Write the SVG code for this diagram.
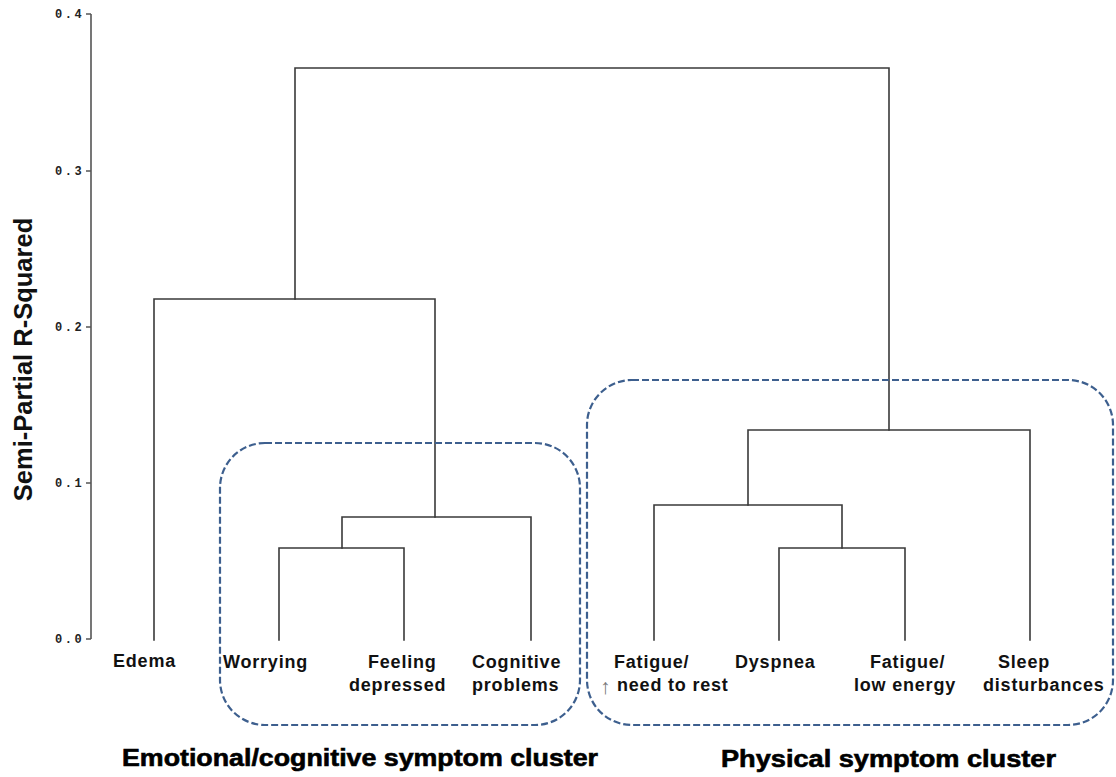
<svg xmlns="http://www.w3.org/2000/svg" width="1116" height="777" viewBox="0 0 1116 777">
<style>
.ln{stroke:#3a3a3a;stroke-width:1.6;fill:none;stroke-linecap:square}
.ax{stroke:#555;stroke-width:1.6;fill:none}
.tk{font-family:"Liberation Mono",monospace;font-weight:bold;font-size:12px;letter-spacing:2.5px;fill:#222}
.lb{font-family:"Liberation Sans",Arial,sans-serif;font-weight:bold;font-size:18px;letter-spacing:0.8px;fill:#111}
.cl{fill:none;stroke:#3d5f8e;stroke-width:2.2;stroke-dasharray:7 3}
.tt{font-family:"Liberation Sans",Arial,sans-serif;font-weight:bold;font-size:23px;fill:#000;stroke:#000;stroke-width:0.6}
.yl{font-family:"Liberation Sans",Arial,sans-serif;font-weight:bold;font-size:25.5px;fill:#111}
</style>
<rect width="1116" height="777" fill="#fff"/>
<g id="axis">
<path class="ax" d="M91 14V639M86 14H91M86 171H91M86 327H91M86 483H91M86 639H91"/>
<text class="tk" x="55" y="18">0.4</text>
<text class="tk" x="55" y="175">0.3</text>
<text class="tk" x="55" y="331">0.2</text>
<text class="tk" x="55" y="487">0.1</text>
<text class="tk" x="55" y="643">0.0</text>
<text class="yl" transform="translate(32,359.5) rotate(-90)" text-anchor="middle">Semi-Partial R-Squared</text>
</g>
<g id="connectors">
<path class="ln" d="M295 299V68H889V430"/>
<path class="ln" d="M154 640V299H435V517"/>
<path class="ln" d="M342 548V517H531V640"/>
<path class="ln" d="M279 640V548H404V640"/>
<path class="ln" d="M748 505V430H1030V640"/>
<path class="ln" d="M654 640V505H842V548"/>
<path class="ln" d="M779 640V548H905V640"/>
</g>
<g id="cluster-emotional">
<rect class="cl" x="220" y="443" width="360" height="282" rx="45" ry="45"/>
<text class="tt" x="122" y="766" textLength="476" lengthAdjust="spacingAndGlyphs">Emotional/cognitive symptom cluster</text>
</g>
<g id="cluster-physical">
<rect class="cl" x="587" y="380" width="526" height="345" rx="45" ry="45"/>
<text class="tt" x="721" y="767" textLength="335" lengthAdjust="spacingAndGlyphs">Physical symptom cluster</text>
</g>
<g id="leaf-edema"><text class="lb" x="113" y="667">Edema</text></g>
<g id="leaf-worrying"><text class="lb" x="223" y="668">Worrying</text></g>
<g id="leaf-feeling-depressed"><text class="lb"><tspan x="368" y="668">Feeling</tspan><tspan x="349" y="691">depressed</tspan></text></g>
<g id="leaf-cognitive-problems"><text class="lb"><tspan x="472" y="668">Cognitive</tspan><tspan x="472" y="691">problems</tspan></text></g>
<g id="leaf-fatigue-rest"><text class="lb"><tspan x="600" y="694" style="fill:#777;font-weight:normal;font-size:21px">↑</tspan><tspan x="614" y="668">Fatigue/</tspan><tspan x="617" y="691">need to rest</tspan></text></g>
<g id="leaf-dyspnea"><text class="lb" x="735" y="668">Dyspnea</text></g>
<g id="leaf-fatigue-energy"><text class="lb"><tspan x="870" y="668">Fatigue/</tspan><tspan x="854" y="691">low energy</tspan></text></g>
<g id="leaf-sleep"><text class="lb"><tspan x="998" y="668">Sleep</tspan><tspan x="983" y="691">disturbances</tspan></text></g>
</svg>
